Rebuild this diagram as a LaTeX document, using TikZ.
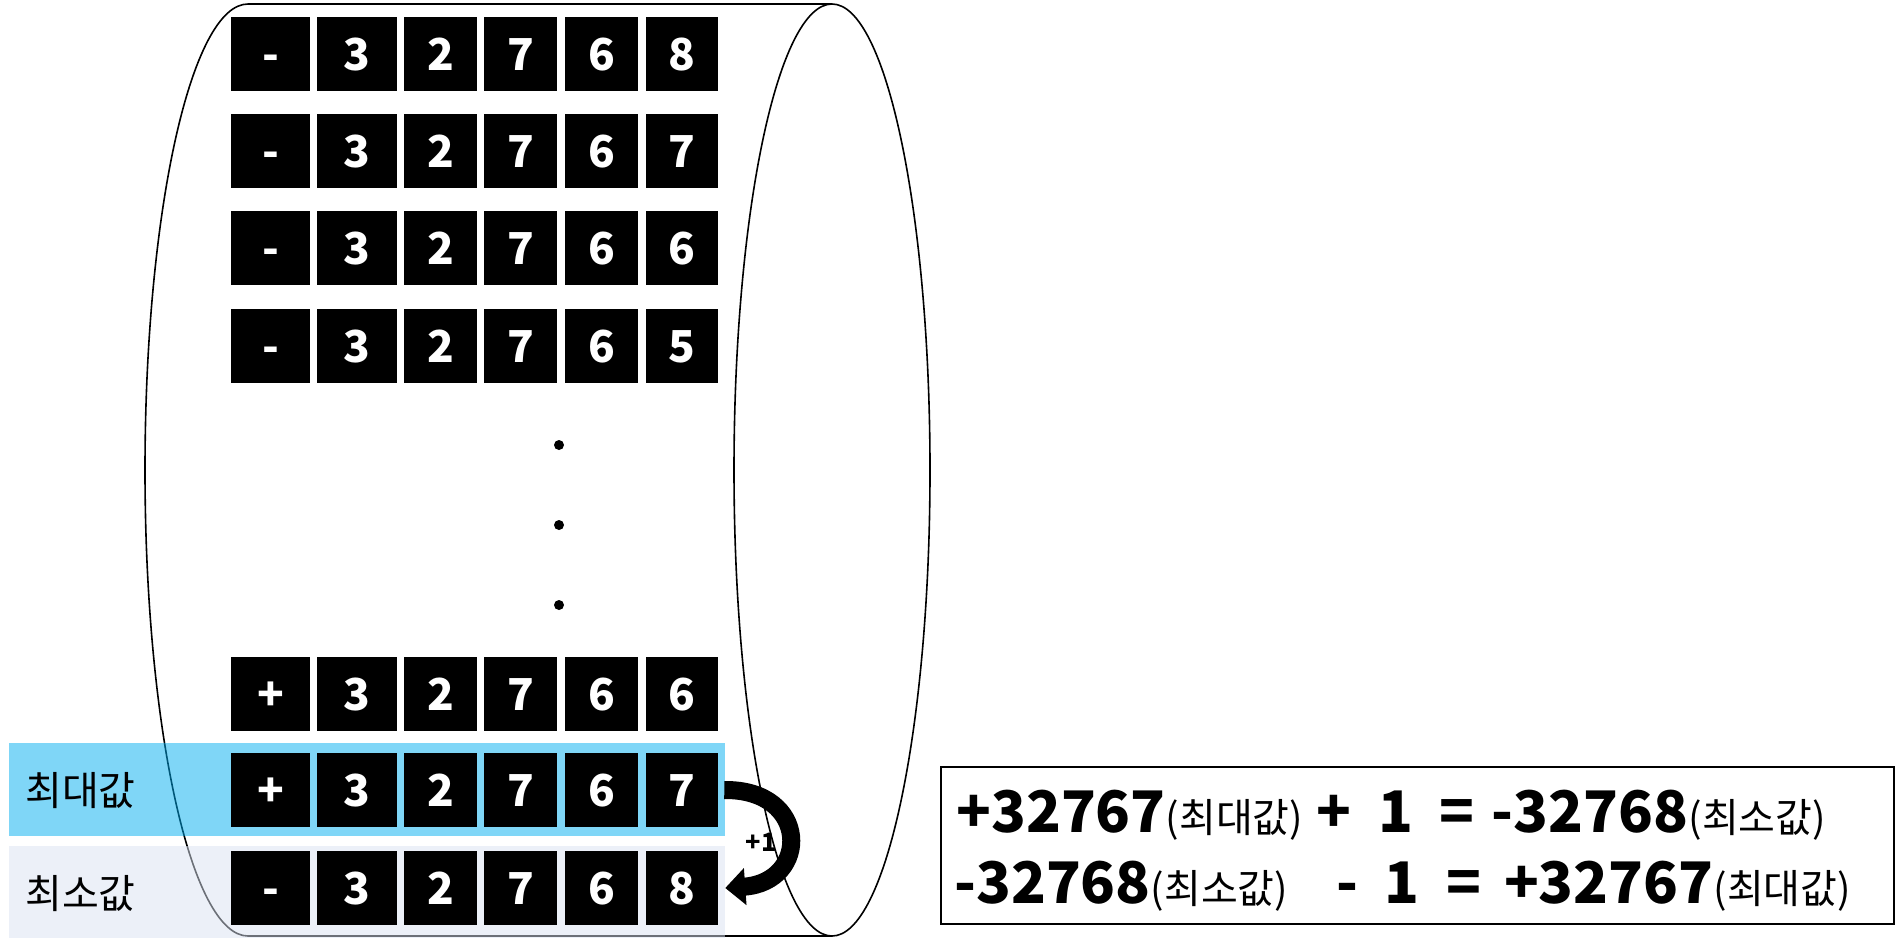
\documentclass[tikz,border=0pt]{standalone}
\usepackage{fontspec}
\setmainfont{Noto Sans CJK KR}
\usetikzlibrary{
    calc,
    arrows.meta
}
\definecolor{maxband}{RGB}{0,173,239}
\definecolor{minband}{RGB}{217,225,241}
\newcommand{\eqdigits}{\bfseries\fontsize{43}{43}\selectfont}
\newcommand{\eqword}{\mdseries\fontsize{30}{30}\selectfont}
\tikzset{
    cyl/.style={line width=1.2pt},
    band/.style={fill opacity=0.5, inner sep=0pt},
    cell/.style={fill=black, text=white, inner sep=0pt, minimum height=55.5pt,
        font=\bfseries\fontsize{33}{33}\selectfont, text height=24pt, text depth=0pt},
    bandlabel/.style={anchor=west, inner sep=0pt, font=\fontsize{30}{30}\selectfont},
    eqline/.style={anchor=base west, inner sep=0pt}
}

\begin{document}
\begin{tikzpicture}[x=0.75pt, y=-0.75pt]
        \useasboundingbox (0,0) rectangle (1897,951);

        % cylinder
        \draw[cyl] (832,4) -- (248,4) arc[start angle=270, end angle=90, x radius=103, y radius=466] -- (832,936);
        \draw[cyl] (832,470) ellipse[x radius=98, y radius=466];

        % bands
        \fill[band, maxband] (9,743) rectangle (725,836);
        \fill[band, minband] (9,846) rectangle (725,938);
        \node[bandlabel] (lblmax) at (25,791) {최대값};
        \node[bandlabel] (lblmin) at (25,894) {최소값};

        % cells
        \foreach \r/\y/\s/\d in {1/17/-/8, 2/114/-/7, 3/211/-/6, 4/309/-/5, 5/657/+/6, 6/753/+/7, 7/851/-/8} {
            \foreach \c/\x/\w/\t in {1/231/79/\s, 2/317/80/3, 3/404/73/2, 4/484/73/7, 5/565/73/6, 6/646/72/\d}
                \node[cell, minimum width=\w*0.75pt] (r\r c\c) at (\x+\w/2, \y+37) {\t};
        }

        \foreach \y in {445,525,605}
            \fill (559,\y) circle[radius=5];

        % +1
        \draw[line width=13.5pt, -{Triangle[width=27pt, length=15pt]}]
            ($(r6c6.east)+(6,0)$) .. controls (810,789) and (810,882) .. ($(r7c6.east)+(7,0)$);
        \node[font=\bfseries\fontsize{19}{19}\selectfont, inner sep=0pt] (plusone) at (761,842) {+1};

        % equations
        \draw[line width=2.2pt] (941,767) rectangle (1894,924);
        \node[eqline] (eqmax) at (956,832) {{\eqdigits +32767}{\eqword (최대값)}\hspace{10pt}{\eqdigits +\hspace{20pt}1\hspace{20pt}=\hspace{13pt}-32768}{\eqword (최소값)}};
        \node[eqline] (eqmin) at (954,903) {{\eqdigits -32768}{\eqword (최소값)}\hspace{36pt}{\eqdigits -\hspace{20pt}1\hspace{20pt}=\hspace{17pt}+32767}{\eqword (최대값)}};
    \end{tikzpicture}
\end{document}
